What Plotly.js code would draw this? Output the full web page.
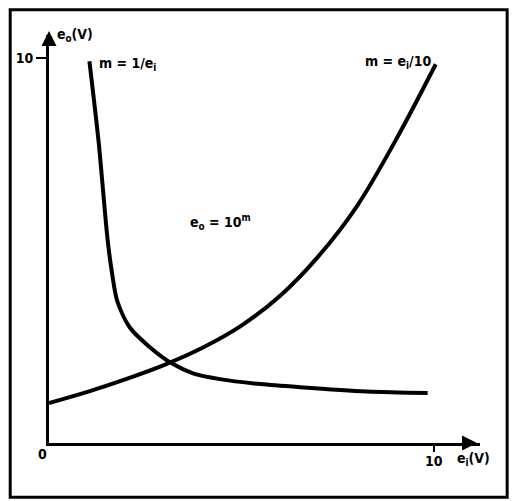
<!DOCTYPE html>
<html><head><meta charset="utf-8">
<script src="https://cdn.plot.ly/plotly-3.0.1.min.js"></script>
<style>html,body{margin:0;padding:0;background:#fff}#chart{width:519px;height:501px}</style>
</head><body><div id="chart"></div>
<script>
// Curve m = 1/e_i
const ei_inv = [1.05, 1.29, 1.52, 1.64, 1.77, 2.10, 2.62, 3.19, 3.74, 4.44, 5.50, 6.52, 8.26, 9.84];
const eo_inv = [9.92, 7.82, 5.31, 4.40, 3.70, 3.00, 2.49, 2.07, 1.81, 1.66, 1.53, 1.45, 1.34, 1.30];
// Curve m = e_i/10
const ei_lin = [0, 1, 2, 3, 4, 5, 6, 7, 8, 9, 10.05];
const eo_lin = [1.04, 1.33, 1.66, 2.03, 2.48, 3.05, 3.82, 4.85, 6.15, 7.85, 9.84];
const xTicks = [10], xTickText = ['10'];
const yTicks = [10], yTickText = ['10'];

const F = 'DejaVu Sans Condensed, Liberation Sans Narrow, Arial Narrow, sans-serif';
const font = {family: F, size: 14, color: '#000', weight: 'bold'};

const traces = [
  {x: ei_inv, y: eo_inv, mode: 'lines', line: {color: '#000', width: 4, shape: 'spline', smoothing: 0.8}, hoverinfo: 'skip'},
  {x: ei_lin, y: eo_lin, mode: 'lines', line: {color: '#000', width: 4, shape: 'spline', smoothing: 1}, hoverinfo: 'skip'}
];

const layout = {
  width: 519, height: 501,
  margin: {l: 49, r: 39, t: 35, b: 58},
  paper_bgcolor: '#fff', plot_bgcolor: '#fff',
  showlegend: false,
  font: font,
  xaxis: {range: [0, 11.2], showgrid: false, zeroline: false, showline: true, linecolor: '#000', linewidth: 3,
          tickvals: xTicks, ticktext: xTickText, ticks: 'outside', ticklen: 6, tickwidth: 2, tickcolor: '#000',
          showticklabels: false, fixedrange: true},
  yaxis: {range: [0, 10.6], showgrid: false, zeroline: false, showline: true, linecolor: '#000', linewidth: 3,
          tickvals: yTicks, ticktext: yTickText, ticks: 'outside', ticklen: 10, tickwidth: 2, tickcolor: '#000',
          tickfont: font, fixedrange: true},
  shapes: [
    {type: 'rect', xref: 'paper', yref: 'paper', x0: -0.090, x1: 1.063, y0: -0.133, y1: 1.062,
     line: {color: '#000', width: 3}, fillcolor: 'rgba(0,0,0,0)'}
  ],
  annotations: [
    {x: 0.993, y: 0, ax: -16, ay: 0, xref: 'paper', yref: 'paper', showarrow: true, arrowhead: 2, arrowsize: 1, arrowwidth: 3, arrowcolor: '#000', text: ' '},
    {x: 0, y: 1.01, ax: 0, ay: 16, xref: 'paper', yref: 'paper', showarrow: true, arrowhead: 2, arrowsize: 1, arrowwidth: 3, arrowcolor: '#000', text: ' '},
    {x: xTicks[0], y: -0.044, xref: 'x', yref: 'paper', xanchor: 'center', yanchor: 'middle', text: xTickText[0], showarrow: false, font: font},
    {x: -0.016, y: -0.027, xref: 'paper', yref: 'paper', xanchor: 'center', yanchor: 'middle', text: '0', showarrow: false, font: font},
    {x: 0.986, y: -0.039, xref: 'paper', yref: 'paper', xanchor: 'center', yanchor: 'middle', text: 'e<sub>i</sub>(V)', showarrow: false, font: font},
    {x: 0.061, y: 1.0, xref: 'paper', yref: 'paper', xanchor: 'center', yanchor: 'middle', text: 'e<sub>o</sub>(V)', showarrow: false, font: font},
    {x: 1.26, y: 9.85, xref: 'x', yref: 'y', xanchor: 'left', text: 'm = 1/e<sub>i</sub>', showarrow: false, font: font},
    {x: 8.15, y: 9.9, xref: 'x', yref: 'y', xanchor: 'left', text: 'm = e<sub>i</sub>/10', showarrow: false, font: font},
    {x: 3.6, y: 5.75, xref: 'x', yref: 'y', xanchor: 'left', text: 'e<sub>o</sub> = 10<sup>m</sup>', showarrow: false, font: font}
  ]
};
Plotly.newPlot('chart', traces, layout, {displayModeBar: false, staticPlot: true});
</script></body></html>
